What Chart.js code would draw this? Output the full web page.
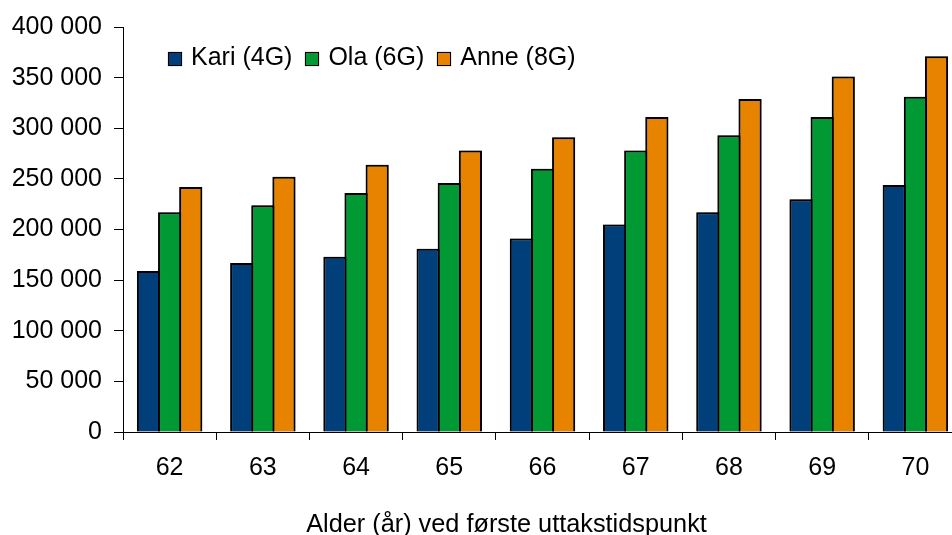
<!DOCTYPE html>
<html>
<head>
<meta charset="utf-8">
<script src="https://cdn.jsdelivr.net/npm/chart.js@4/dist/chart.umd.min.js"></script>
<style>
  html, body { margin: 0; padding: 0; background: #fff; overflow: hidden; }
  #wrap { position: relative; width: 952px; height: 535px; overflow: hidden; }
  #chart { position: absolute; left: 0; top: 0; display: block; }
  #legend {
    position: absolute; left: 168px; top: 44px;
    display: flex; align-items: flex-start; gap: 13px;
    font: 25px "Liberation Sans", Arial, sans-serif; line-height: 25px; color: #000;
  }
  #legend .item { display: flex; align-items: flex-start; white-space: nowrap; }
  #legend .box { width: 12px; height: 12px; border: 1.5px solid #000; margin: 8px 9px 0 0; box-shadow: 0 0 1px rgba(0,0,0,0.5); }
  #xtitle {
    position: absolute; left: 306px; top: 511px; width: 401px;
    text-align: center; white-space: nowrap;
    font: 25.3px "Liberation Sans", Arial, sans-serif; line-height: 25px; color: #000;
  }
</style>
</head>
<body>
<div id="wrap">
  <canvas id="chart" width="962" height="535"></canvas>
  <div id="legend"></div>
  <div id="xtitle">Alder (år) ved første uttakstidspunkt</div>
</div>
<script>
// Data
const ages = ["62", "63", "64", "65", "66", "67", "68", "69", "70"];
const seriesNames = ["Kari (4G)", "Ola (6G)", "Anne (8G)"];
const kari = [159000, 167000, 173000, 181000, 191000, 205000, 217000, 230000, 244000];
const ola = [217000, 224000, 236000, 246000, 260000, 278000, 293000, 311000, 331000];
const anne = [242000, 252000, 264000, 278000, 291000, 311000, 329000, 351000, 371000];
const yTicks = [0, 50000, 100000, 150000, 200000, 250000, 300000, 350000, 400000];

const colors = ["#003f7a", "#009933", "#e88300"];

Chart.defaults.font.family = '"Liberation Sans", Arial, sans-serif';
Chart.defaults.color = "#000";

function fmt(v) {
  return v.toString().replace(/\B(?=(\d{3})+(?!\d))/g, " ");
}

// soft grey halo round the bar outlines
const barHalo = {
  id: "barHalo",
  beforeDatasetsDraw(chart) {
    const ctx = chart.ctx;
    ctx.save();
    ctx.shadowColor = "rgba(0,0,0,0.45)";
    ctx.shadowBlur = 2;
  },
  afterDatasetsDraw(chart) {
    chart.ctx.restore();
  }
};

// bars overlap by one border width so neighbours share a single outline
const datasets = [kari, ola, anne].map((values, i) => ({
  label: seriesNames[i],
  data: values,
  backgroundColor: colors[i],
  borderColor: "#000",
  borderWidth: 2,
  inflateAmount: 0,
  barPercentage: 1.0946,
  categoryPercentage: 0.68
}));

new Chart(document.getElementById("chart"), {
  type: "bar",
  data: { labels: ages, datasets: datasets },
  plugins: [barHalo],
  options: {
    responsive: false,
    animation: false,
    devicePixelRatio: 1,
    layout: { padding: { top: 27, left: 0, right: 0, bottom: 0 } },
    plugins: {
      legend: { display: false },
      tooltip: { enabled: false }
    },
    scales: {
      x: {
        offset: true,
        grid: { display: true, drawOnChartArea: false, drawTicks: true, tickLength: 8, color: "#000", offset: true },
        border: { display: true, color: "#000", width: 1 },
        ticks: { font: { size: 25 }, padding: 13, color: "#000" },
        afterFit: (scale) => { scale.height = 103; }
      },
      y: {
        min: 0,
        max: yTicks[yTicks.length - 1],
        afterBuildTicks: (scale) => { scale.ticks = yTicks.map(v => ({ value: v })); },
        grid: { display: true, drawOnChartArea: false, drawTicks: true, tickLength: 9, color: "#000" },
        border: { display: true, color: "#000", width: 1 },
        ticks: { font: { size: 25 }, padding: 12, color: "#000", callback: (v) => fmt(v) },
        afterFit: (scale) => { scale.width = 123; }
      }
    }
  }
});

// Legend
const legend = document.getElementById("legend");
legend.innerHTML = seriesNames.map((name, i) =>
  `<div class="item"><div class="box" style="background:${colors[i]}"></div><span>${name}</span></div>`
).join("");
</script>
</body>
</html>
